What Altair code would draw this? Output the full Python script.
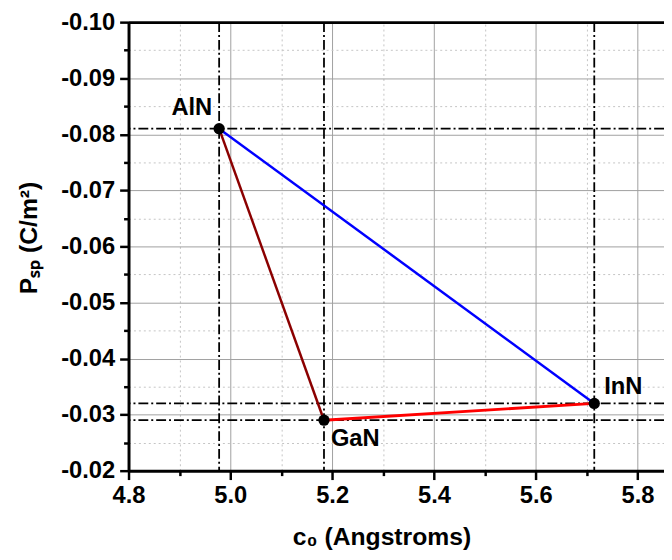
import altair as alt
import pandas as pd

# ---- data ----
materials = ["AlN", "GaN", "InN"]
c0_values = [4.978, 5.184, 5.715]
psp_values = [-0.081, -0.029, -0.032]

x_major_ticks = [4.8, 5.0, 5.2, 5.4, 5.6, 5.8]
x_minor_ticks = [4.9, 5.1, 5.3, 5.5, 5.7]
y_major_ticks = [-0.10, -0.09, -0.08, -0.07, -0.06, -0.05, -0.04, -0.03, -0.02]
y_minor_ticks = [-0.095, -0.085, -0.075, -0.065, -0.055, -0.045, -0.035, -0.025]
x_domain = [4.8, 5.852]
y_domain = [-0.10, -0.02]

pts = pd.DataFrame({"material": materials, "c0": c0_values, "psp": psp_values})


def seg(a, b):
    return pts[pts["material"].isin([a, b])]


FONT = "Liberation Sans"

xs = alt.Scale(domain=x_domain, nice=False, zero=False)
ys = alt.Scale(domain=y_domain, nice=False, zero=False, reverse=True)

major_x_axis = alt.Axis(
    values=x_major_ticks, format=".1f", orient="bottom",
    grid=True, gridColor="#a0a0a0", gridWidth=1,
    tickSize=9, tickWidth=2.5, domainWidth=3, domainColor="black",
    labelPadding=4, labelFlush=False, labelOverlap=False,
    title="c\u2080 (Angstroms)", titleX=256, titleY=75,
    titleAlign="center", titleBaseline="alphabetic",
)
major_y_axis = alt.Axis(
    values=y_major_ticks, labelExpr="'-' + format(-datum.value, '.2f')", orient="left",
    grid=True, gridColor="#a0a0a0", gridWidth=1,
    tickSize=9, tickWidth=2.5, domainWidth=3, domainColor="black",
    labelPadding=5, labelFlush=False, labelOverlap=False,
    title="P\u209b\u209a (C/m\u00b2)", titleX=-93, titleY=218, titleAngle=270,
    titleAlign="center", titleBaseline="alphabetic",
)
minor_x_axis = alt.Axis(
    values=x_minor_ticks, orient="bottom", grid=True, gridColor="#c4c4c4",
    gridDash=[2, 3], gridWidth=1, labels=False, tickSize=5, tickWidth=2.5,
    domain=False, title=None,
)
minor_y_axis = alt.Axis(
    values=y_minor_ticks, orient="left", grid=True, gridColor="#c4c4c4",
    gridDash=[2, 3], gridWidth=1, labels=False, tickSize=5, tickWidth=2.5,
    domain=False, title=None,
)
top_axis = alt.Axis(
    orient="top", labels=False, ticks=False, grid=False,
    domainWidth=3, domainColor="black", title=None,
)

dashdot = [10, 3, 2, 3]

vrules = alt.Chart(pts).mark_rule(color="black", strokeWidth=1.8, strokeDash=dashdot).encode(
    x=alt.X("c0:Q", scale=xs, axis=minor_x_axis)
)
hrules = alt.Chart(pts).mark_rule(color="black", strokeWidth=1.8, strokeDash=dashdot).encode(
    y=alt.Y("psp:Q", scale=ys, axis=minor_y_axis)
)

blue = alt.Chart(seg("AlN", "InN")).mark_line(color="#0000ff", strokeWidth=2.5).encode(
    x=alt.X("c0:Q", scale=xs, axis=top_axis),
    y=alt.Y("psp:Q", scale=ys, axis=None),
)
darkred = alt.Chart(seg("AlN", "GaN")).mark_line(color="#8b0000", strokeWidth=2.5).encode(
    x=alt.X("c0:Q", scale=xs, axis=None),
    y=alt.Y("psp:Q", scale=ys, axis=None),
)
red = alt.Chart(seg("GaN", "InN")).mark_line(color="#ff0000", strokeWidth=3).encode(
    x=alt.X("c0:Q", scale=xs, axis=None),
    y=alt.Y("psp:Q", scale=ys, axis=None),
)

points = alt.Chart(pts).mark_circle(size=130, color="black", opacity=1).encode(
    x=alt.X("c0:Q", scale=xs, axis=major_x_axis),
    y=alt.Y("psp:Q", scale=ys, axis=major_y_axis),
)


def label(name, align, dx, dy):
    return alt.Chart(pts[pts["material"] == name]).mark_text(
        font=FONT, fontSize=24, fontWeight="bold", color="black",
        align=align, baseline="alphabetic", dx=dx, dy=dy,
    ).encode(
        x=alt.X("c0:Q", scale=xs, axis=None),
        y=alt.Y("psp:Q", scale=ys, axis=None),
        text="material:N",
    )


labels = [
    label("AlN", "right", -7, -14),
    label("GaN", "left", 7, 26),
    label("InN", "left", 10, -10),
]

chart = alt.layer(
    vrules, hrules, blue, darkred, red, points, *labels
).resolve_axis(
    x="independent", y="independent"
).properties(
    width=542, height=454,
    padding={"left": 122, "top": 11, "right": 0, "bottom": 79},
    autosize=alt.AutoSizeParams(type="none"),
).configure_axis(
    labelFont=FONT, labelFontSize=24, labelFontWeight="bold", labelColor="black",
    titleFont=FONT, titleFontSize=25, titleFontWeight="bold", titleColor="black",
    tickColor="black",
).configure_view(stroke=None)

chart.save("out.html", embed_options={"renderer": "svg", "actions": False})
